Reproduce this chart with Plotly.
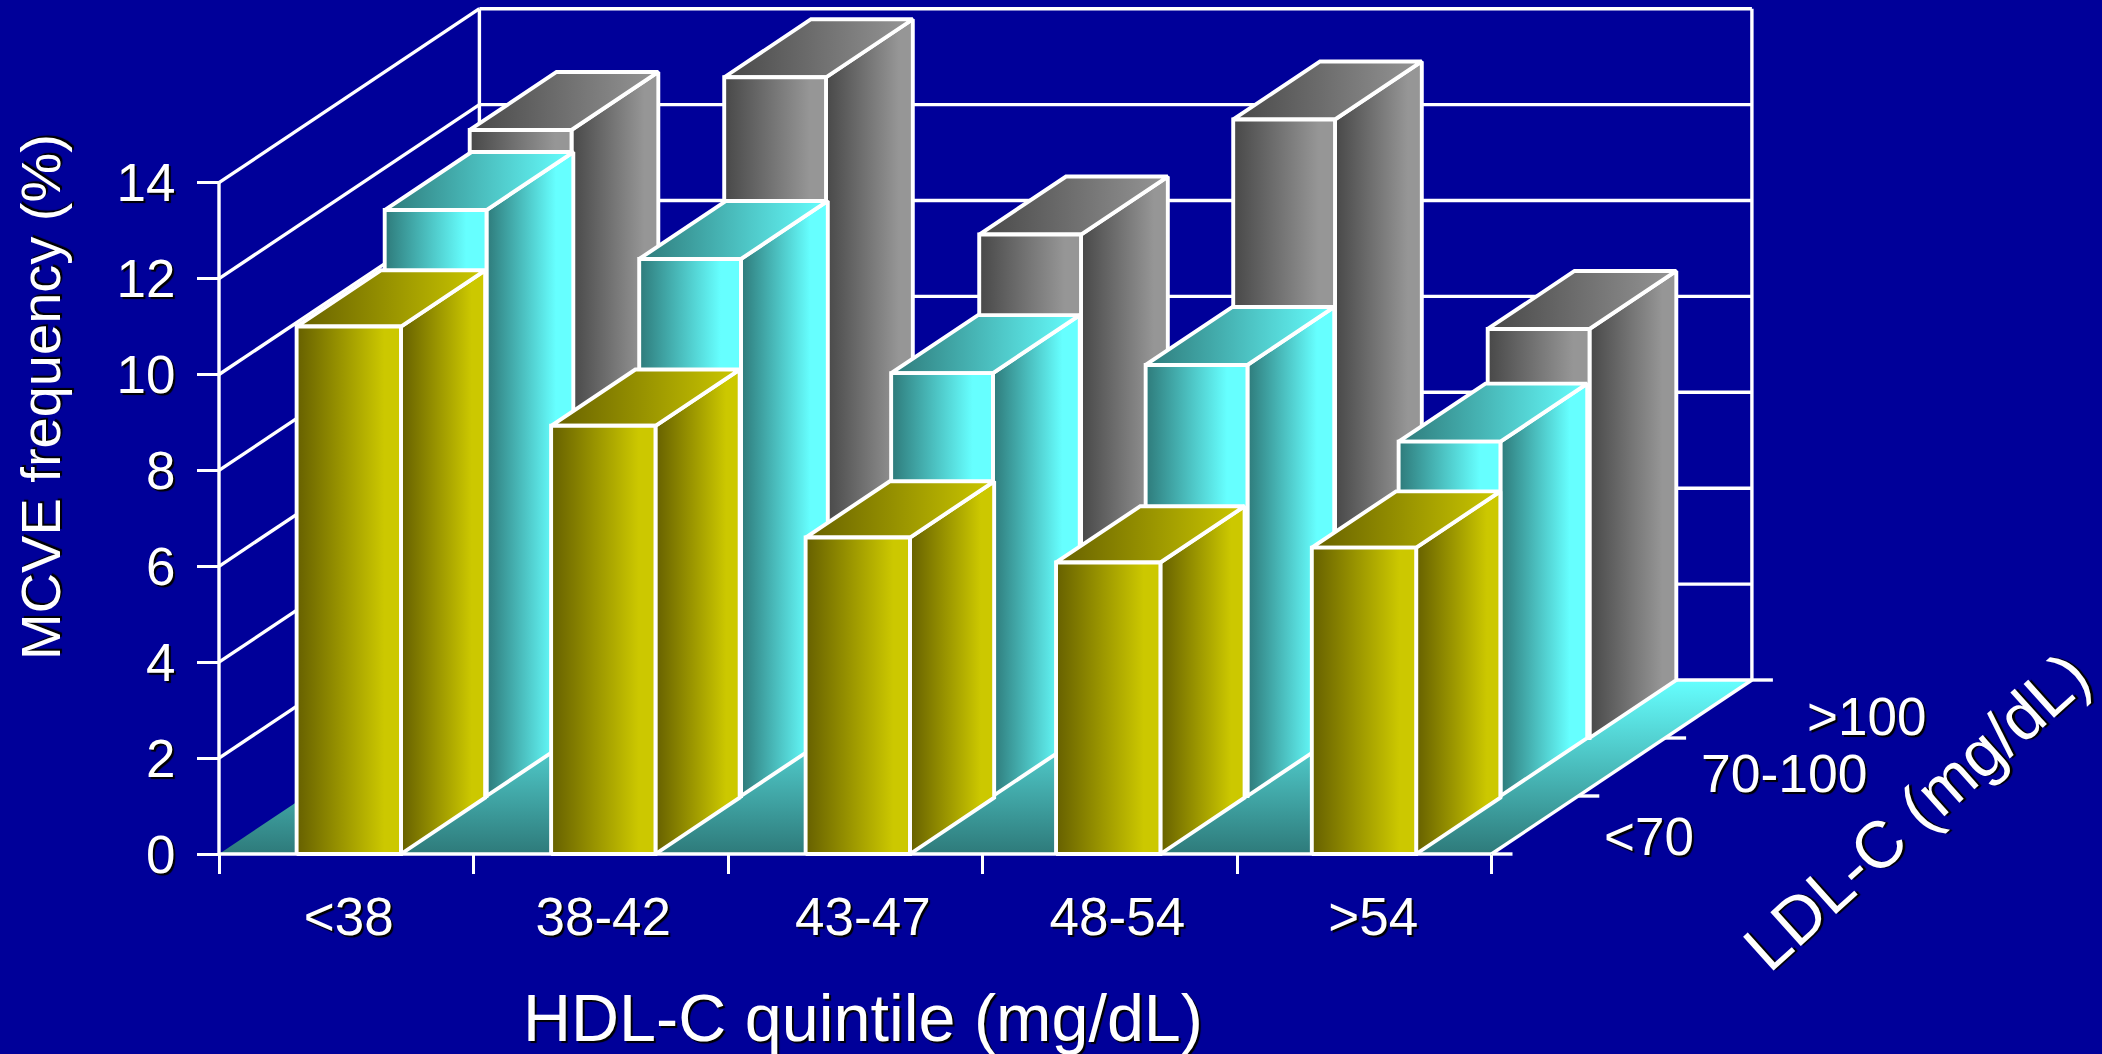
import plotly.graph_objects as go

# ---- data ----
categories = ["<38", "38-42", "43-47", "48-54", ">54"]
depth_labels = ["<70", "70-100", ">100"]
ldl_lt70 = [11.0, 8.93, 6.6, 6.08, 6.39]
ldl_70_100 = [12.22, 11.2, 8.82, 8.99, 7.39]
ldl_gt100 = [12.68, 13.78, 10.5, 12.9, 8.53]
y_ticks = [0, 2, 4, 6, 8, 10, 12, 14]

# ---- picture geometry ----
W, H = 2102, 1054
X0, Y0 = 219.0, 854.0        # pixel of the axis origin
UX, UY = 254.5, 47.95        # pixels per category / per percent
DX, DY = 86.8 / UX, 58.0 / UY  # oblique shift of one depth row, in axis units
BAR_L = 0.305
BAR_D = [0.97, 1.0, 1.0]
BAR_W = [0.41, 0.40, 0.40]
# small per-bar placement offsets of the hand-laid original, by row and category
NUDGE = [[0, 0, 0, -0.016, -0.011],
         [0.005, 0.005, -0.005, -0.005, -0.011],
         [-0.002, -0.002, 0, -0.002, -0.002]]
LABEL_NUDGE = [0.01, 0.01, 0.03, 0.03, 0.035]

def px(xp):
    return (xp - X0) / UX

def py(yp):
    return (Y0 - yp) / UY

def proj(x, h, d):
    return x + d * DX, h + d * DY

BG = "#000099"
WHITE = "#ffffff"
LW = 3.9
GRID_W = 3.4

styles = [
    ("#666000", "#ccc800", 0.84),
    ("#2e7a7a", "#66ffff", 0.80),
    ("#484848", "#969696", 0.84),
]

fig = go.Figure()

def face(points, colorscale, gtype="horizontal", name="", line=True):
    xs = [p[0] for p in points] + [points[0][0]]
    ys = [p[1] for p in points] + [points[0][1]]
    fig.add_trace(go.Scatter(
        x=xs, y=ys, mode="lines", fill="toself", name=name,
        fillgradient=dict(type=gtype, colorscale=colorscale),
        line=dict(color=WHITE if line else "rgba(0,0,0,0)", width=LW),
        hoverinfo="skip", showlegend=False, cliponaxis=False))

def lines(segs, name):
    xs, ys = [], []
    for a, b in segs:
        xs += [a[0], b[0], None]
        ys += [a[1], b[1], None]
    fig.add_trace(go.Scatter(x=xs, y=ys, mode="lines", name=name,
                             line=dict(color=WHITE, width=GRID_W),
                             hoverinfo="skip", showlegend=False, cliponaxis=False))

n = len(categories)
nd = len(depth_labels)

# floor
face([proj(0, 0, 0), proj(n, 0, 0), proj(n, 0, nd), proj(0, 0, nd)],
     [[0, "#2e7a7a"], [1, "#66ffff"]], gtype="vertical", name="floor", line=False)

# walls and gridlines
top = y_ticks[-1]
segs = [(proj(0, 0, 0), proj(0, top, 0)),
        (proj(0, 0, nd), proj(0, top, nd)),
        (proj(n, 0, nd), proj(n, top, nd)),
        (proj(0, 0, 0), proj(n, 0, 0)),
        (proj(n, 0, 0), proj(n, 0, nd)),
        (proj(0, 0, nd), proj(n, 0, nd))]
for t in y_ticks[1:]:
    segs.append((proj(0, t, 0), proj(0, t, nd)))
    segs.append((proj(0, t, nd), proj(n, t, nd)))
lines(segs, "walls")

# depth axis ticks
tick_dx = 21 / UX
depth_segs = []
for d in range(nd + 1):
    a = proj(n, 0, d)
    depth_segs.append((a, (a[0] + tick_dx, a[1])))
lines(depth_segs, "depth ticks")

# bars, back row first
rows = [ldl_lt70, ldl_70_100, ldl_gt100]
for r in reversed(range(nd)):
    dark, light, stop = styles[r]
    cs = [[0, dark], [stop, light], [1, light]]
    for i, v in enumerate(rows[r]):
        x1 = i + BAR_L + NUDGE[r][i]
        x2 = x1 + BAR_W[r]
        d1, d2 = r, r + BAR_D[r]
        face([proj(x2, 0, d1), proj(x2, 0, d2), proj(x2, v, d2), proj(x2, v, d1)],
             cs, name=f"{depth_labels[r]} {categories[i]} side")
        face([proj(x1, v, d1), proj(x2, v, d1), proj(x2, v, d2), proj(x1, v, d2)],
             [[0, dark], [1, light]], name=f"{depth_labels[r]} {categories[i]} top")
        face([proj(x1, 0, d1), proj(x2, 0, d1), proj(x2, v, d1), proj(x1, v, d1)],
             cs, name=f"{depth_labels[r]} {categories[i]} front")

SHADOW = "2px 2px 1px #000000"
FONT = "Liberation Sans, Arial, sans-serif"

def note(text, xp, yp, size, angle=0):
    fig.add_annotation(text=text, x=px(xp), y=py(yp), xref="x", yref="y",
                       showarrow=False, textangle=angle, xanchor="center", yanchor="middle",
                       font=dict(family=FONT, size=size, color=WHITE, shadow=SHADOW))

# depth axis labels
note(depth_labels[0], 1649, 836, 53)
note(depth_labels[1], 1784, 773, 53.5)
note(depth_labels[2], 1866, 716, 53)
# axis titles
note("HDL-C quintile (mg/dL)", 863, 1018, 66.5)
note("MCVE frequency (%)", 40, 397, 56, -90)
note("LDL-C (mg/dL)", 1916, 811, 66, -42)

fig.update_layout(
    width=W, height=H, margin=dict(l=0, r=0, t=0, b=0),
    paper_bgcolor=BG, plot_bgcolor=BG, showlegend=False,
    font=dict(family=FONT, color=WHITE),
    xaxis=dict(
        range=[px(0), px(W)], domain=[0, 1], anchor="free", position=(H - Y0) / H,
        showgrid=False, zeroline=False, showline=False,
        tickmode="array", tickvals=[i + 0.5 + LABEL_NUDGE[i] for i in range(n)], ticktext=categories,
        ticks="", ticklabelstandoff=27,
        tickfont=dict(family=FONT, size=53, color=WHITE, shadow=SHADOW),
        minor=dict(tickmode="array", tickvals=list(range(n + 1)), ticks="outside",
                   ticklen=19, tickwidth=GRID_W, tickcolor=WHITE, showgrid=False),
    ),
    yaxis=dict(
        range=[py(H), py(0)], domain=[0, 1], anchor="free", position=X0 / W,
        showgrid=False, zeroline=False, showline=False,
        tickmode="array", tickvals=y_ticks, ticktext=[str(t) for t in y_ticks],
        ticks="outside", ticklen=22, tickwidth=GRID_W, tickcolor=WHITE, ticklabelstandoff=11,
        tickfont=dict(family=FONT, size=53, color=WHITE, shadow=SHADOW),
    ),
)

fig.write_html("out.html", config={"displayModeBar": False},
               post_script="document.body.style.margin='0';document.body.style.overflow='hidden';")
